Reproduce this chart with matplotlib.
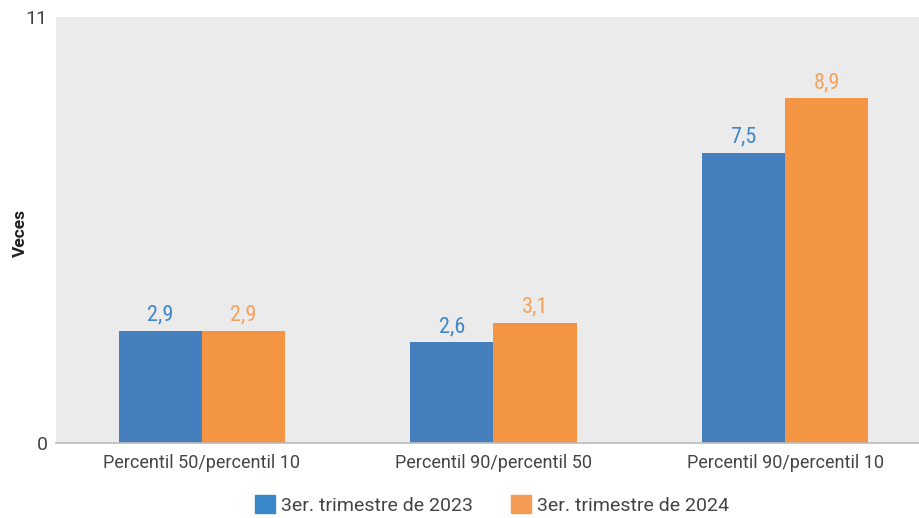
import matplotlib.pyplot as plt
import numpy as np

categories = ["Percentil 50/percentil 10", "Percentil 90/percentil 50", "Percentil 90/percentil 10"]
series_names = ["3er. trimestre de 2023", "3er. trimestre de 2024"]
values_2023 = [2.9, 2.6, 7.5]
values_2024 = [2.9, 3.1, 8.9]
labels_2023 = ["2,9", "2,6", "7,5"]
labels_2024 = ["2,9", "3,1", "8,9"]

blue = "#467fbe"
orange = "#f39543"
blue_txt = "#3f87c8"
orange_txt = "#f4a35e"
text_gray = "#444444"

plt.rcParams['font.family'] = ['Roboto', 'DejaVu Sans']

fig = plt.figure(figsize=(9.2, 5.18), dpi=100)
ax = fig.add_axes([56 / 920, 1 - 443 / 518, 875 / 920, 426 / 518])
ax.set_facecolor("#ebebeb")

x = np.arange(len(categories))
w = 0.285
ax.bar(x - w / 2, values_2023, width=w, color=blue, label=series_names[0])
ax.bar(x + w / 2, values_2024, width=w, color=orange, label=series_names[1])

# condensed look for the value labels
narrow = ['Roboto Condensed', 'Liberation Sans Narrow', 'Roboto', 'DejaVu Sans']
for i in range(len(categories)):
    ax.text(x[i] - w / 2, values_2023[i] + 0.13, labels_2023[i], ha="center", va="bottom",
            color=blue_txt, fontsize=16, family=narrow)
    ax.text(x[i] + w / 2, values_2024[i] + 0.13, labels_2024[i], ha="center", va="bottom",
            color=orange_txt, fontsize=16, family=narrow)

ax.set_xlim(-0.5, 2.5)
ax.set_ylim(0, 11)
ax.set_yticks([0, 11])
ax.set_yticklabels(["0", "11"], fontsize=14, color=text_gray)
ax.set_xticks(x)
ax.set_xticklabels(categories, fontsize=13, color=text_gray)
ax.tick_params(axis="x", length=0, pad=8)
ax.tick_params(axis="y", length=0, pad=6)

for s in ["top", "right", "left"]:
    ax.spines[s].set_visible(False)
ax.spines["bottom"].set_color("#bbbbbb")
ax.spines["bottom"].set_linewidth(1.2)

fig.text(20 / 920, 1 - 233 / 518, "Veces", rotation=90, ha="center", va="center",
         fontsize=12.5, fontweight="bold", color="#222222")

leg = fig.legend(loc="center", bbox_to_anchor=(492 / 920, 1 - 505 / 518), ncol=2, frameon=False,
                 fontsize=14, handlelength=1.0, handleheight=1.0, columnspacing=2.0,
                 handletextpad=0.3, labelcolor=text_gray)
for h, c in zip(leg.legend_handles, ["#3a87c9", "#f49c55"]):
    h.set_color(c)

plt.savefig("out.png", dpi=100)
